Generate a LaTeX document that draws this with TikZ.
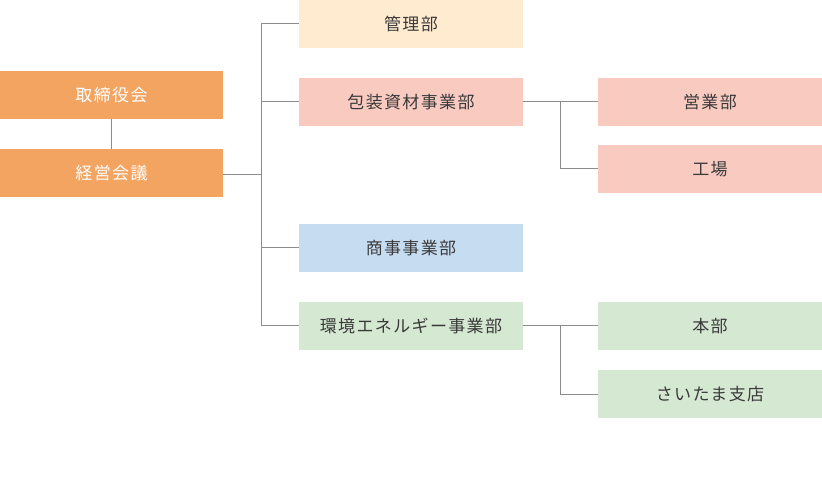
\documentclass[tikz,border=0pt]{standalone}
\usepackage{fontspec}
\newfontfamily\jp{Noto Sans CJK JP}[LetterSpace=8]
\definecolor{cOrange}{HTML}{F3A461}
\definecolor{cCream}{HTML}{FFEBD0}
\definecolor{cPink}{HTML}{F8CAC0}
\definecolor{cBlue}{HTML}{C6DDF1}
\definecolor{cGreen}{HTML}{D5E8D1}
\definecolor{cLine}{HTML}{8C8C8C}
\definecolor{cText}{HTML}{3A3A3A}
\begin{document}
\begin{tikzpicture}[x=1pt,y=-1pt,
  box/.style={inner sep=0pt,minimum width=224pt,minimum height=48pt,text=cText,font=\jp\fontsize{17}{20}\selectfont},
  top/.style={box,fill=cOrange,text=white,minimum width=223pt},
  conn/.style={draw=cLine,line width=1pt}]
\useasboundingbox (0,0) rectangle (822,486);
\node[top] (b) at (111.5,95) {取締役会};
\node[top] (m) at (111.5,173) {経営会議};
\node[box,fill=cCream] (kanri) at (411,24) {管理部};
\node[box,fill=cPink] (housou) at (411,102) {包装資材事業部};
\node[box,fill=cPink] (eigyo) at (710,102) {営業部};
\node[box,fill=cPink] (kojo) at (710,169) {工場};
\node[box,fill=cBlue] (shoji) at (411,248) {商事事業部};
\node[box,fill=cGreen] (kankyo) at (411,326) {環境エネルギー事業部};
\node[box,fill=cGreen] (honbu) at (710,326) {本部};
\node[box,fill=cGreen] (saitama) at (710,394) {さいたま支店};
\coordinate (tr) at (261,0);
\coordinate (br) at (560.5,0);
\draw[conn] (b) -- (m);
\draw[conn] ([yshift=-2pt]m.east) -- ([yshift=-2pt]m.east -| tr);
\draw[conn] (kanri.west) -- (kanri.west -| tr) -- (kankyo.west -| tr) -- (kankyo.west);
\draw[conn] (housou.west) -- (housou.west -| tr);
\draw[conn] (shoji.west) -- (shoji.west -| tr);
\draw[conn] (housou.east) -- (eigyo.west);
\draw[conn] (housou.east -| br) |- (kojo.west);
\draw[conn] (kankyo.east) -- (honbu.west);
\draw[conn] (kankyo.east -| br) |- (saitama.west);
\end{tikzpicture}
\end{document}
